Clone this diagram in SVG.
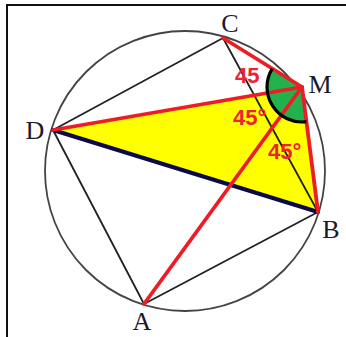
<svg xmlns="http://www.w3.org/2000/svg" width="346" height="337" viewBox="0 0 346 337">
<style>
.lbl{font-family:"Liberation Serif","Times New Roman",serif;font-size:26px;fill:#1a1a2e;text-anchor:middle}
.ang{font-family:"Liberation Sans",Arial,sans-serif;font-size:22px;font-weight:bold;fill:#ee2233}
.thin{stroke:#222;stroke-width:1.8;fill:none;stroke-linecap:round}
.red{stroke:#ee1c25;stroke-width:3.8;fill:none;stroke-linecap:round}
</style>
<rect width="346" height="337" fill="#fff"/>
<path d="M7,337 V5 H346" fill="none" stroke="#111" stroke-width="2"/>
<circle id="circle" cx="185" cy="171" r="140" fill="none" stroke="#444" stroke-width="1.8"/>
<polygon id="yellow-triangle" points="53,130 302,87 318,212" fill="#ffff00"/>
<path id="green-sector" d="M302,87 L272.25,68.56 A35,35 0 0 0 306.45,121.7 Z" fill="#22b14c"/>
<g id="connectors">
<line class="thin" x1="223" y1="38" x2="53" y2="130"/>
<line class="thin" x1="223" y1="38" x2="318" y2="212"/>
<line class="thin" x1="53" y1="130" x2="144" y2="304"/>
<line class="thin" x1="144" y1="304" x2="318" y2="212"/>
<line x1="53" y1="130" x2="318" y2="212" stroke="#0a0a4a" stroke-width="4" stroke-linecap="round"/>
<line class="red" x1="223" y1="38" x2="302" y2="87"/>
<line class="red" x1="302" y1="87" x2="53" y2="130"/>
<line class="red" x1="302" y1="87" x2="318" y2="212"/>
<line class="red" x1="302" y1="87" x2="144" y2="304" stroke-width="4.2"/>
</g>
<path id="angle-arc" d="M272.25,68.56 A35,35 0 0 0 306.45,121.7" fill="none" stroke="#000" stroke-width="3.2"/>
<g id="angle-labels">
<text class="ang" x="235" y="83">45</text>
<text class="ang" x="233" y="125">45°</text>
<text class="ang" x="268" y="159">45°</text>
</g>
<g id="node-C"><text class="lbl" x="230" y="32">C</text></g>
<g id="node-M"><text class="lbl" x="320" y="93">M</text></g>
<g id="node-D"><text class="lbl" x="35" y="139">D</text></g>
<g id="node-B"><text class="lbl" x="331" y="238">B</text></g>
<g id="node-A"><text class="lbl" x="142" y="330">A</text></g>
</svg>
